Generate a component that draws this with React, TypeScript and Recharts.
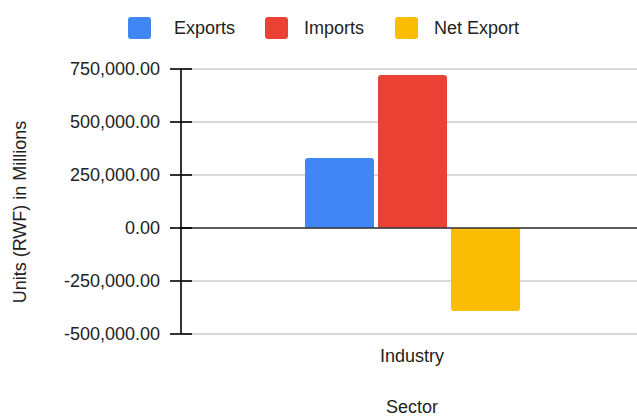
import React from "react";
import {
  BarChart,
  Bar,
  XAxis,
  YAxis,
  CartesianGrid,
  ReferenceLine,
  Legend,
} from "recharts";

const sectors = ["Industry"];
const exportsValues = [330000];
const importsValues = [722000];
const netExportValues = [-392000];
const yTicks = [-500000, -250000, 0, 250000, 500000, 750000];

const seriesNames = ["Exports", "Imports", "Net Export"];
const seriesColors = ["#4285F4", "#EA4335", "#FBBC04"];
const seriesKeys = ["exports", "imports", "netExport"];

const data = sectors.map((s, i) => ({
  sector: s,
  exports: exportsValues[i],
  imports: importsValues[i],
  netExport: netExportValues[i],
}));

const FONT = '"Liberation Sans", Arial, sans-serif';
const LEGEND_SQUARE_X = [128, 265, 395];
const LEGEND_TEXT_X = [175, 305, 435];

const fmt = (v: number) =>
  v.toLocaleString("en-US", { minimumFractionDigits: 2, maximumFractionDigits: 2 });

const YTick = (props: any) => {
  const { x, y, payload } = props;
  return (
    <g>
      <line x1={x - 11} x2={x + 11} y1={y} y2={y} stroke="#000" strokeWidth={1.6} />
      <text
        x={x - 21}
        y={y}
        dy="0.355em"
        textAnchor="end"
        fontFamily={FONT}
        fontSize={18}
        fill="#222"
      >
        {fmt(payload.value)}
      </text>
    </g>
  );
};

const LegendContent = () => (
  <div
    style={{
      position: "relative",
      fontFamily: FONT,
      fontSize: 18,
      color: "#222",
      height: 22,
      width: 637,
    }}
  >
    {seriesNames.map((n, i) => (
      <React.Fragment key={n}>
        <div
          style={{
            position: "absolute",
            left: LEGEND_SQUARE_X[i],
            top: 0,
            width: 23,
            height: 22,
            borderRadius: 3,
            background: seriesColors[i],
          }}
        />
        <span
          style={{
            position: "absolute",
            left: LEGEND_TEXT_X[i] - 1,
            top: 0,
            lineHeight: "22px",
            whiteSpace: "nowrap",
          }}
        >
          {n}
        </span>
      </React.Fragment>
    ))}
  </div>
);

export default function App() {
  return (
    <div
      style={{
        position: "fixed",
        left: 0,
        top: 0,
        width: 637,
        height: 416,
        overflow: "hidden",
        background: "#fff",
      }}
    >
      <BarChart
        width={643}
        height={416}
        data={data}
        margin={{ top: 47, right: 0, bottom: 0, left: 0 }}
        barSize={69}
        barGap={4}
      >
        <CartesianGrid vertical={false} stroke="#cccccc" strokeWidth={1.3} />
        <XAxis
          dataKey="sector"
          height={82}
          tickLine={false}
          axisLine={false}
          tickSize={0}
          tickMargin={15}
          tick={{ fontFamily: FONT, fontSize: 18, fill: "#222" }}
          label={(p: any) => (
            <text
              x={412}
              y={413}
              textAnchor="middle"
              fontFamily={FONT}
              fontSize={18}
              fill="#222"
            >
              Sector
            </text>
          )}
        />
        <YAxis
          width={181}
          domain={[-500000, 750000]}
          ticks={yTicks}
          interval={0}
          tickLine={false}
          tickSize={0}
          tickMargin={0}
          axisLine={{ stroke: "#000", strokeWidth: 1.6 }}
          tick={<YTick />}
          label={(p: any) => (
            <text
              x={26}
              y={212}
              transform="rotate(-90, 26, 212)"
              textAnchor="middle"
              fontFamily={FONT}
              fontSize={18}
              fill="#222"
            >
              Units (RWF) in Millions
            </text>
          )}
        />
        <Legend
          verticalAlign="top"
          content={<LegendContent />}
          wrapperStyle={{ position: "absolute", top: 17, left: 0, width: 637, height: 22 }}
        />
        {seriesKeys.map((k, i) => (
          <Bar
            key={k}
            dataKey={k}
            name={seriesNames[i]}
            fill={seriesColors[i]}
            radius={[3, 3, 0, 0]}
            isAnimationActive={false}
          />
        ))}
        <ReferenceLine y={0} stroke="#333" strokeWidth={1.6} />
      </BarChart>
    </div>
  );
}
